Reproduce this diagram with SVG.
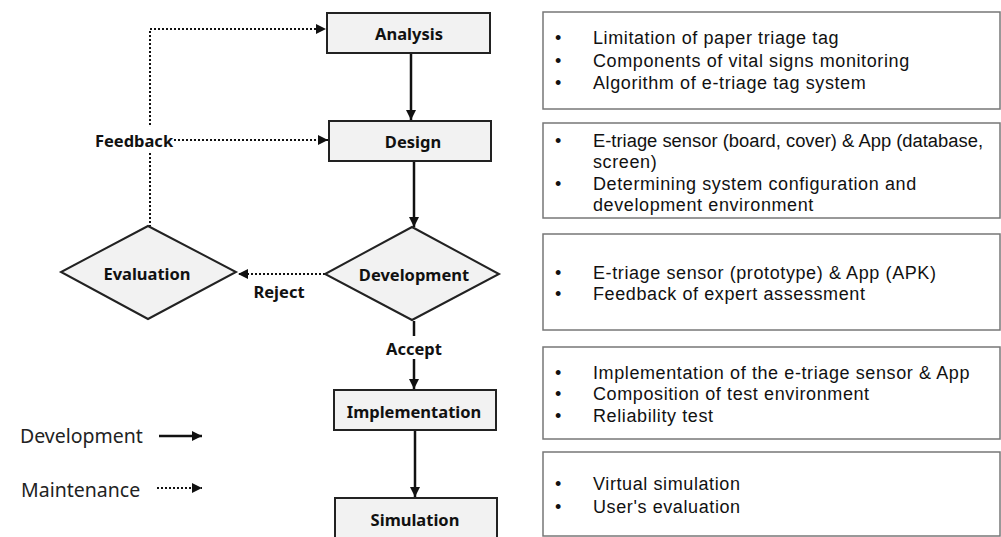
<svg xmlns="http://www.w3.org/2000/svg" width="1001" height="537" viewBox="0 0 1001 537">
<defs>
<style>
.node{fill:#f2f2f2;stroke:#222;stroke-width:2}
.lbl{font-family:"Noto Sans","Liberation Sans",sans-serif;font-weight:bold;font-size:16.5px;fill:#111;text-anchor:middle;dominant-baseline:central}
.box{fill:#fff;stroke:#777;stroke-width:1.5}
.txt{font-family:"Liberation Sans",Arial,sans-serif;font-size:18px;letter-spacing:0.6px;fill:#111}
.solid{stroke:#111;stroke-width:2.5;fill:none}
.dot{stroke:#111;stroke-width:2;stroke-dasharray:2 2;fill:none}
.leg{font-family:"Noto Sans","Liberation Sans",sans-serif;font-size:19.5px;fill:#222}
</style>
<marker id="ah" viewBox="0 0 10 10" refX="10" refY="5" markerWidth="10" markerHeight="10" markerUnits="userSpaceOnUse" orient="auto">
<path d="M0,0 L10,5 L0,10 z" fill="#111"/>
</marker>
</defs>
<rect width="1001" height="537" fill="#fff"/>

<g id="connectors">
<line class="solid" x1="411" y1="54" x2="411" y2="120" marker-end="url(#ah)"/>
<line class="solid" x1="414" y1="162" x2="414" y2="227" marker-end="url(#ah)"/>
<line class="solid" x1="414" y1="321" x2="414" y2="336"/>
<line class="solid" x1="414" y1="359" x2="414" y2="389" marker-end="url(#ah)"/>
<line class="solid" x1="415" y1="431" x2="415" y2="497" marker-end="url(#ah)"/>
<line class="dot" x1="325" y1="274" x2="238" y2="274" marker-end="url(#ah)"/>
<polyline class="dot" points="150,125 150,29 326,29" marker-end="url(#ah)"/>
<line class="dot" x1="150" y1="153" x2="150" y2="226"/>
<line class="dot" x1="174" y1="140" x2="328" y2="140" marker-end="url(#ah)"/>
<text class="lbl" x="279" y="291">Reject</text>
<text class="lbl" x="414" y="348">Accept</text>
<text class="lbl" x="134" y="140">Feedback</text>
</g>

<g id="analysis"><rect class="node" x="327" y="13" width="163" height="40"/><text class="lbl" x="409" y="33">Analysis</text></g>
<g id="design"><rect class="node" x="329" y="121" width="162" height="40"/><text class="lbl" x="413" y="141">Design</text></g>
<g id="development"><polygon class="node" points="412,227 499,274 412,320 325,274"/><text class="lbl" x="414" y="274">Development</text></g>
<g id="evaluation"><polygon class="node" points="148,226 236,272 148,319 61,272"/><text class="lbl" x="147" y="273">Evaluation</text></g>
<g id="implementation"><rect class="node" x="334" y="390" width="162" height="40"/><text class="lbl" x="414" y="411">Implementation</text></g>
<g id="simulation"><rect class="node" x="335" y="498" width="162" height="40"/><text class="lbl" x="415" y="519">Simulation</text></g>

<g id="legend">
<text class="leg" x="20" y="443">Development</text>
<line class="solid" x1="159" y1="436" x2="202" y2="436" marker-end="url(#ah)"/>
<text class="leg" x="21" y="497">Maintenance</text>
<line class="dot" x1="157" y1="488" x2="202" y2="488" marker-end="url(#ah)"/>
</g>

<g id="box1"><rect class="box" x="543" y="12" width="457" height="97"/>
<text class="txt"><tspan x="555" y="44">•</tspan><tspan x="593" y="44">Limitation of paper triage tag</tspan><tspan x="555" y="67">•</tspan><tspan x="593" y="67">Components of vital signs monitoring</tspan><tspan x="555" y="89">•</tspan><tspan x="593" y="89">Algorithm of e-triage tag system</tspan></text></g>
<g id="box2"><rect class="box" x="543" y="123" width="457" height="95"/>
<text class="txt"><tspan x="555" y="147">•</tspan><tspan x="593" y="168">screen)</tspan><tspan x="555" y="190">•</tspan><tspan x="593" y="190">Determining system configuration and</tspan><tspan x="593" y="211">development environment</tspan></text>
<text class="txt" x="593" y="147" style="letter-spacing:0" textLength="390" lengthAdjust="spacingAndGlyphs">E-triage sensor (board, cover) &amp; App (database,</text></g>
<g id="box3"><rect class="box" x="543" y="234" width="457" height="96"/>
<text class="txt"><tspan x="555" y="279">•</tspan><tspan x="593" y="279">E-triage sensor (prototype) &amp; App (APK)</tspan><tspan x="555" y="300">•</tspan><tspan x="593" y="300">Feedback of expert assessment</tspan></text></g>
<g id="box4"><rect class="box" x="543" y="347" width="457" height="92"/>
<text class="txt"><tspan x="555" y="379">•</tspan><tspan x="593" y="379">Implementation of the e-triage sensor &amp; App</tspan><tspan x="555" y="400">•</tspan><tspan x="593" y="400">Composition of test environment</tspan><tspan x="555" y="422">•</tspan><tspan x="593" y="422">Reliability test</tspan></text></g>
<g id="box5"><rect class="box" x="543" y="452" width="457" height="84"/>
<text class="txt"><tspan x="555" y="490">•</tspan><tspan x="593" y="490">Virtual simulation</tspan><tspan x="555" y="513">•</tspan><tspan x="593" y="513">User's evaluation</tspan></text></g>
</svg>
